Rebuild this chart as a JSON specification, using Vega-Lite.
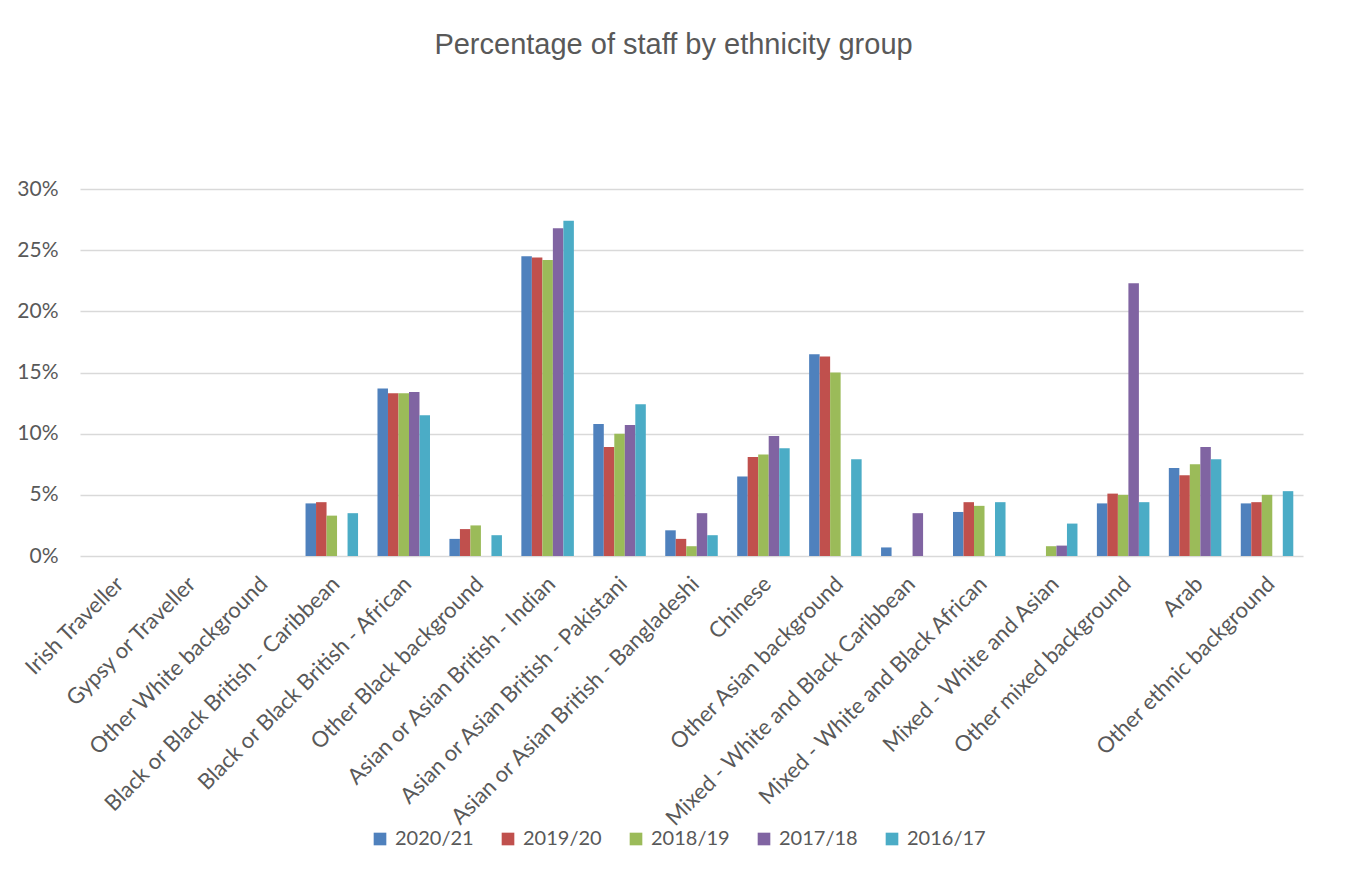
{
  "$schema": "https://vega.github.io/schema/vega-lite/v6.json",
  "width": 1223,
  "height": 367,
  "autosize": {"type": "none"},
  "padding": {"left": 80, "top": 189, "right": 46, "bottom": 316},
  "background": "white",
  "title": {
    "text": "Percentage of staff by ethnicity group",
    "font": "Liberation Sans",
    "fontSize": 29,
    "fontWeight": "normal",
    "color": "#595959",
    "anchor": "middle",
    "baseline": "alphabetic",
    "offset": 95,
    "dx": -18
  },
  "data": {
    "values": [
      {"group": "Black or Black British - Caribbean", "year": "2020/21", "pct": 4.3},
      {"group": "Black or Black British - Caribbean", "year": "2019/20", "pct": 4.4},
      {"group": "Black or Black British - Caribbean", "year": "2018/19", "pct": 3.3},
      {"group": "Black or Black British - Caribbean", "year": "2016/17", "pct": 3.5},
      {"group": "Black or Black British - African", "year": "2020/21", "pct": 13.7},
      {"group": "Black or Black British - African", "year": "2019/20", "pct": 13.3},
      {"group": "Black or Black British - African", "year": "2018/19", "pct": 13.3},
      {"group": "Black or Black British - African", "year": "2017/18", "pct": 13.4},
      {"group": "Black or Black British - African", "year": "2016/17", "pct": 11.5},
      {"group": "Other Black background", "year": "2020/21", "pct": 1.4},
      {"group": "Other Black background", "year": "2019/20", "pct": 2.2},
      {"group": "Other Black background", "year": "2018/19", "pct": 2.5},
      {"group": "Other Black background", "year": "2016/17", "pct": 1.7},
      {"group": "Asian or Asian British - Indian", "year": "2020/21", "pct": 24.5},
      {"group": "Asian or Asian British - Indian", "year": "2019/20", "pct": 24.4},
      {"group": "Asian or Asian British - Indian", "year": "2018/19", "pct": 24.2},
      {"group": "Asian or Asian British - Indian", "year": "2017/18", "pct": 26.8},
      {"group": "Asian or Asian British - Indian", "year": "2016/17", "pct": 27.4},
      {"group": "Asian or Asian British - Pakistani", "year": "2020/21", "pct": 10.8},
      {"group": "Asian or Asian British - Pakistani", "year": "2019/20", "pct": 8.9},
      {"group": "Asian or Asian British - Pakistani", "year": "2018/19", "pct": 10.0},
      {"group": "Asian or Asian British - Pakistani", "year": "2017/18", "pct": 10.7},
      {"group": "Asian or Asian British - Pakistani", "year": "2016/17", "pct": 12.4},
      {"group": "Asian or Asian British - Bangladeshi", "year": "2020/21", "pct": 2.1},
      {"group": "Asian or Asian British - Bangladeshi", "year": "2019/20", "pct": 1.4},
      {"group": "Asian or Asian British - Bangladeshi", "year": "2018/19", "pct": 0.8},
      {"group": "Asian or Asian British - Bangladeshi", "year": "2017/18", "pct": 3.5},
      {"group": "Asian or Asian British - Bangladeshi", "year": "2016/17", "pct": 1.7},
      {"group": "Chinese", "year": "2020/21", "pct": 6.5},
      {"group": "Chinese", "year": "2019/20", "pct": 8.1},
      {"group": "Chinese", "year": "2018/19", "pct": 8.3},
      {"group": "Chinese", "year": "2017/18", "pct": 9.8},
      {"group": "Chinese", "year": "2016/17", "pct": 8.8},
      {"group": "Other Asian background", "year": "2020/21", "pct": 16.5},
      {"group": "Other Asian background", "year": "2019/20", "pct": 16.3},
      {"group": "Other Asian background", "year": "2018/19", "pct": 15.0},
      {"group": "Other Asian background", "year": "2016/17", "pct": 7.9},
      {"group": "Mixed - White and Black Caribbean", "year": "2020/21", "pct": 0.7},
      {"group": "Mixed - White and Black Caribbean", "year": "2017/18", "pct": 3.5},
      {"group": "Mixed - White and Black African", "year": "2020/21", "pct": 3.6},
      {"group": "Mixed - White and Black African", "year": "2019/20", "pct": 4.4},
      {"group": "Mixed - White and Black African", "year": "2018/19", "pct": 4.1},
      {"group": "Mixed - White and Black African", "year": "2016/17", "pct": 4.4},
      {"group": "Mixed - White and Asian", "year": "2018/19", "pct": 0.8},
      {"group": "Mixed - White and Asian", "year": "2017/18", "pct": 0.85},
      {"group": "Mixed - White and Asian", "year": "2016/17", "pct": 2.65},
      {"group": "Other mixed background", "year": "2020/21", "pct": 4.3},
      {"group": "Other mixed background", "year": "2019/20", "pct": 5.1},
      {"group": "Other mixed background", "year": "2018/19", "pct": 5.0},
      {"group": "Other mixed background", "year": "2017/18", "pct": 22.3},
      {"group": "Other mixed background", "year": "2016/17", "pct": 4.4},
      {"group": "Arab", "year": "2020/21", "pct": 7.2},
      {"group": "Arab", "year": "2019/20", "pct": 6.6},
      {"group": "Arab", "year": "2018/19", "pct": 7.5},
      {"group": "Arab", "year": "2017/18", "pct": 8.9},
      {"group": "Arab", "year": "2016/17", "pct": 7.9},
      {"group": "Other ethnic background", "year": "2020/21", "pct": 4.3},
      {"group": "Other ethnic background", "year": "2019/20", "pct": 4.4},
      {"group": "Other ethnic background", "year": "2018/19", "pct": 5.0},
      {"group": "Other ethnic background", "year": "2016/17", "pct": 5.3}
    ]
  },
  "mark": {"type": "bar"},
  "encoding": {
    "x": {
      "field": "group",
      "type": "nominal",
      "scale": {
        "domain": [
          "Irish Traveller",
          "Gypsy or Traveller",
          "Other White background",
          "Black or Black British - Caribbean",
          "Black or Black British - African",
          "Other Black background",
          "Asian or Asian British - Indian",
          "Asian or Asian British - Pakistani",
          "Asian or Asian British - Bangladeshi",
          "Chinese",
          "Other Asian background",
          "Mixed - White and Black Caribbean",
          "Mixed - White and Black African",
          "Mixed - White and Asian",
          "Other mixed background",
          "Arab",
          "Other ethnic background"
        ],
        "paddingInner": 0.27,
        "paddingOuter": 0.135
      },
      "axis": {
        "title": null,
        "labelAngle": -45,
        "labelFont": "Lato",
        "labelFontSize": 22,
        "labelColor": "#595959",
        "labelPadding": 17,
        "labelOffset": -3,
        "labelLimit": 500,
        "ticks": false,
        "domain": false
      }
    },
    "xOffset": {
      "field": "year",
      "type": "nominal",
      "scale": {"domain": ["2020/21", "2019/20", "2018/19", "2017/18", "2016/17"]}
    },
    "y": {
      "field": "pct",
      "type": "quantitative",
      "scale": {"domain": [0, 30]},
      "axis": {
        "title": null,
        "values": [0, 5, 10, 15, 20, 25, 30],
        "labelExpr": "datum.value + '%'",
        "grid": true,
        "gridColor": "#D9D9D9",
        "gridWidth": 1.3,
        "domain": false,
        "ticks": false,
        "labelPadding": 22,
        "labelFont": "Lato",
        "labelFontSize": 21,
        "labelColor": "#595959"
      }
    },
    "color": {
      "field": "year",
      "type": "nominal",
      "scale": {
        "domain": ["2020/21", "2019/20", "2018/19", "2017/18", "2016/17"],
        "range": ["#4F81BD", "#C0504D", "#9BBB59", "#8064A2", "#4BACC6"]
      },
      "legend": {
        "title": null,
        "orient": "none",
        "direction": "horizontal",
        "legendX": 290,
        "legendY": 640,
        "symbolType": "square",
        "symbolSize": 160,
        "symbolStrokeWidth": 0,
        "labelOffset": 5,
        "columnPadding": 24,
        "labelFont": "Lato",
        "labelFontSize": 20,
        "labelColor": "#595959"
      }
    }
  },
  "config": {"view": {"stroke": null}}
}
